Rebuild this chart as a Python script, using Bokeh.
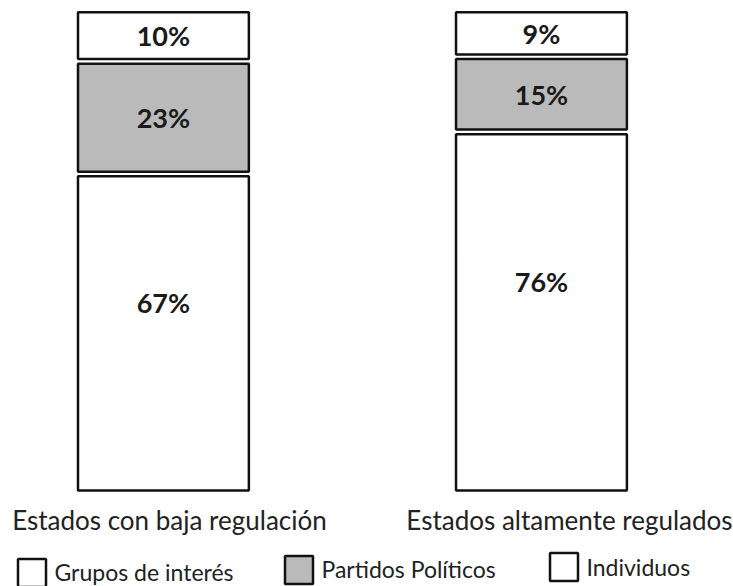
import numpy as np
from bokeh.plotting import figure
from bokeh.models import Range1d, ColumnDataSource, Legend, LegendItem
from bokeh.core.properties import value
from bokeh.embed import file_html
from bokeh.resources import INLINE

# ---- data ----
categories = ["Estados con baja regulación", "Estados altamente regulados"]
series_names = ["Grupos de interés", "Partidos Políticos", "Individuos"]
grupos = [67, 76]
partidos = [23, 15]
individuos = [10, 9]

series_values = [grupos, partidos, individuos]
fills = ["white", "#bababa", "white"]
GAP = 1.0
BAR_W = 0.452

p = figure(width=733, height=586, output_backend="svg", toolbar_location=None,
           x_axis_type=None, y_axis_type=None,
           x_range=Range1d(-0.431, 1.508), y_range=Range1d(-20.47, 104.5),
           min_border=0, min_border_left=0, min_border_right=0,
           min_border_top=0, min_border_bottom=0)
p.outline_line_color = None
p.xgrid.visible = False
p.ygrid.visible = False
p.background_fill_color = "white"

xs = np.arange(len(categories))
cum = np.zeros(len(categories))
renderers = []
for i, (vals, fc) in enumerate(zip(series_values, fills)):
    vals = np.array(vals, dtype=float)
    bottom = cum + i * GAP
    top = bottom + vals
    src = ColumnDataSource(dict(left=xs - BAR_W / 2, right=xs + BAR_W / 2,
                                bottom=bottom, top=top,
                                mid=(bottom + top) / 2, x=xs,
                                lab=[f"{int(v)}%" for v in vals]))
    r = p.quad(left="left", right="right", bottom="bottom", top="top", source=src,
               fill_color=fc, line_color="#111111", line_width=2.5)
    renderers.append(r)
    p.text(x="x", y="mid", text="lab", source=src, text_align="center",
           text_baseline="middle", text_font=value("Lato"), text_font_style="bold",
           text_font_size="27px", text_color="#1a1a1a",
           y_offset=-31 if i == 0 else 0)
    cum = cum + vals

# category labels
cat_src = ColumnDataSource(dict(x=xs, y=[-6.2, -6.2], t=categories, off=[6, 28]))
p.text(x="x", y="y", text="t", source=cat_src, x_offset="off", text_align="center",
       text_baseline="middle", text_font=value("Lato"), text_font_size="26px",
       text_color="#222222")

# legend: one entry per Legend so each key sits where the reference has it
legend_locs = [(13.5, -3.5), (280.5, -0.5), (545.5, 2.0)]
for name, r, loc in zip(series_names, renderers, legend_locs):
    lg = Legend(items=[LegendItem(label=name, renderers=[r])],
                location=loc, padding=0, margin=0,
                glyph_width=35, glyph_height=35, label_standoff=6,
                label_height=35,
                label_text_font="Lato", label_text_font_size="23px",
                label_text_color="#222222", background_fill_alpha=0,
                border_line_color=None)
    p.add_layout(lg)

open("out.html", "w").write(file_html(p, INLINE))
